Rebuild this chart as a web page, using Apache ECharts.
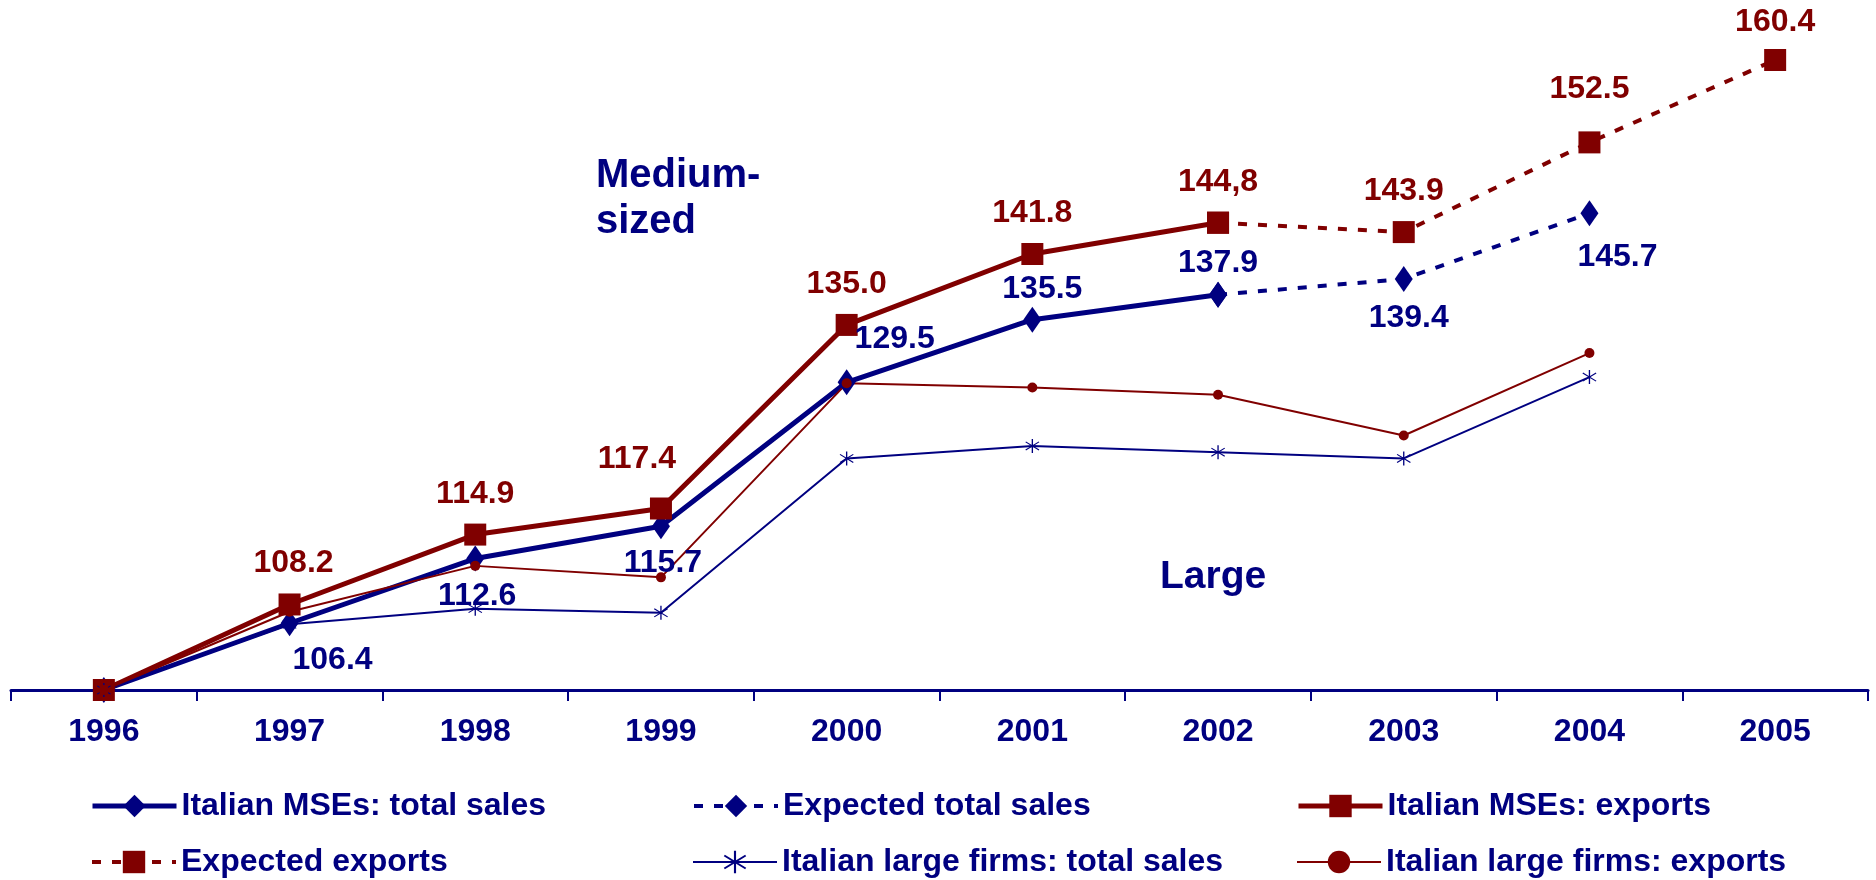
<!DOCTYPE html>
<html>
<head>
<meta charset="utf-8">
<script src="https://cdn.jsdelivr.net/npm/echarts@6/dist/echarts.min.js"></script>
<style>
  html, body { margin: 0; padding: 0; background: #fff; }
  #sales-chart { width: 1876px; height: 880px; }
</style>
</head>
<body>
<div id="sales-chart"></div>
<script>
// data (index 1996 = 100)
var years = ['1996', '1997', '1998', '1999', '2000', '2001', '2002', '2003', '2004', '2005'];
var mseTotal = [100, 106.4, 112.6, 115.7, 129.5, 135.5, 137.9, null, null, null];
var expectedTotal = [null, null, null, null, null, null, 137.9, 139.4, 145.7, null];
var mseExports = [100, 108.2, 114.9, 117.4, 135.0, 141.8, 144.8, null, null, null];
var expectedExports = [null, null, null, null, null, null, 144.8, 143.9, 152.5, 160.4];
var largeTotal = [100, 106.3, 107.8, 107.4, 122.2, 123.4, 122.8, 122.2, 130.0, null];
var largeExports = [100, 107.5, 111.9, 110.8, 129.4, 129.0, 128.3, 124.4, 132.3, null];

var totalLabels = ['', '106.4', '112.6', '115.7', '129.5', '135.5', '137.9', '139.4', '145.7', ''];
var exportLabels = ['', '108.2', '114.9', '117.4', '135.0', '141.8', '144,8', '143.9', '152.5', '160.4'];

// where each value label sits relative to its point (pixels)
var totalLabelOffset = [null, [43, 37], [2, 38], [2, 37], [48, -43], [10, -31], [0, -32], [5, 39], [28, 44], null];
var exportLabelOffset = [null, [4, -41], [0, -40], [-24, -49], [0, -41], [0, -41], [0, -41], [0, -41], [0, -53], [0, -38]];

var NAVY = '#000080';
var MAROON = '#800000';
var FONT = '"Liberation Sans", Arial, sans-serif';
var ASTERISK = 'path://M4.6 0L5.4 0L5.4 10L4.6 10Z M0.8 2.4L1.2 1.8L9.2 7.6L8.8 8.2Z M8.8 1.8L9.2 2.4L1.2 8.2L0.8 7.6Z';

function withLabels(values, texts, offsets, from, to, color) {
  return values.map(function (v, i) {
    if (v === null) return null;
    if (i < from || i > to || !texts[i]) return v;
    return {
      value: v,
      label: {
        show: true,
        position: 'inside',
        offset: offsets[i],
        formatter: texts[i],
        color: color,
        textBorderWidth: 0,
        fontFamily: FONT,
        fontWeight: 'bold',
        fontSize: 32
      }
    };
  });
}

function legendItem(left, top, name) {
  return {
    left: left,
    top: top,
    itemWidth: 84,
    itemHeight: 28,
    lineStyle: { width: 'inherit' },
    data: [name],
    textStyle: { color: NAVY, fontFamily: FONT, fontWeight: 'bold', fontSize: 32 }
  };
}

var chart = echarts.init(document.getElementById('sales-chart'));
chart.setOption({
  animation: false,
  grid: { left: 11, right: 8, top: 12, bottom: 190 },
  legend: [
    legendItem(85, 785, 'Italian MSEs: total sales'),
    legendItem(687, 785, 'Expected total sales'),
    legendItem(1291, 785, 'Italian MSEs: exports'),
    legendItem(85, 841, 'Expected exports'),
    legendItem(687, 841, 'Italian large firms: total sales'),
    legendItem(1291, 841, 'Italian large firms: exports')
  ],
  xAxis: {
    type: 'category',
    boundaryGap: true,
    data: years,
    axisLine: { lineStyle: { color: NAVY, width: 3 } },
    axisTick: { show: true, length: 11, lineStyle: { color: NAVY, width: 2 } },
    axisLabel: { margin: 26, color: NAVY, fontFamily: FONT, fontWeight: 'bold', fontSize: 32 }
  },
  yAxis: { type: 'value', show: false, min: 100, max: 165 },
  series: [
    {
      name: 'Italian MSEs: total sales',
      type: 'line',
      data: withLabels(mseTotal, totalLabels, totalLabelOffset, 0, 6, NAVY),
      symbol: 'diamond',
      symbolSize: [18, 26],
      lineStyle: { color: NAVY, width: 5 },
      itemStyle: { color: NAVY }
    },
    {
      name: 'Expected total sales',
      type: 'line',
      data: withLabels(expectedTotal, totalLabels, totalLabelOffset, 7, 9, NAVY),
      symbol: 'diamond',
      symbolSize: [18, 26],
      lineStyle: { color: NAVY, width: 4, type: [9, 11] },
      itemStyle: { color: NAVY }
    },
    {
      name: 'Italian MSEs: exports',
      type: 'line',
      data: withLabels(mseExports, exportLabels, exportLabelOffset, 0, 6, MAROON),
      symbol: 'rect',
      symbolSize: 22,
      lineStyle: { color: MAROON, width: 5 },
      itemStyle: { color: MAROON }
    },
    {
      name: 'Expected exports',
      type: 'line',
      data: withLabels(expectedExports, exportLabels, exportLabelOffset, 7, 9, MAROON),
      symbol: 'rect',
      symbolSize: 22,
      lineStyle: { color: MAROON, width: 4, type: [9, 11] },
      itemStyle: { color: MAROON }
    },
    {
      name: 'Italian large firms: total sales',
      type: 'line',
      data: largeTotal,
      symbol: ASTERISK,
      symbolSize: 14,
      lineStyle: { color: NAVY, width: 2 },
      itemStyle: { color: NAVY }
    },
    {
      name: 'Italian large firms: exports',
      type: 'line',
      data: largeExports,
      symbol: 'circle',
      symbolSize: 10,
      lineStyle: { color: MAROON, width: 2 },
      itemStyle: { color: MAROON }
    }
  ],
  graphic: [
    {
      type: 'text',
      left: 596,
      top: 153,
      style: { text: 'Medium-\nsized', fill: NAVY, font: 'bold 40px ' + FONT, lineHeight: 46 }
    },
    {
      type: 'text',
      left: 1160,
      top: 558,
      style: { text: 'Large', fill: NAVY, font: 'bold 39px ' + FONT }
    }
  ]
});
</script>
</body>
</html>
